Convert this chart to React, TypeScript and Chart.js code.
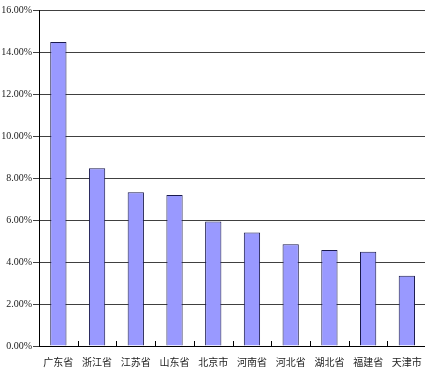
import React, { useEffect, useRef } from "react";
import { Chart, registerables } from "chart.js";

Chart.register(...registerables);

const categories = ["广东省", "浙江省", "江苏省", "山东省", "北京市", "河南省", "河北省", "湖北省", "福建省", "天津市"];
const shares = [14.48, 8.47, 7.32, 7.19, 5.93, 5.41, 4.84, 4.57, 4.49, 3.35];
const yMax = 16;
const yStep = 2;

const innerTicks = {
  id: "innerTicks",
  afterDatasetsDraw(chart: any) {
    const x = chart.scales.x;
    const y = chart.scales.y;
    const ctx = chart.ctx;
    const base = y.getPixelForValue(0);
    ctx.save();
    ctx.strokeStyle = "#000000";
    ctx.lineWidth = 1;
    for (let i = 0; i < categories.length - 1; i++) {
      const px = Math.round((x.getPixelForValue(i) + x.getPixelForValue(i + 1)) / 2) + 0.5;
      ctx.beginPath();
      ctx.moveTo(px, base);
      ctx.lineTo(px, base - 5);
      ctx.stroke();
    }
    ctx.restore();
  },
};

export default function App() {
  const ref = useRef<HTMLCanvasElement>(null);
  useEffect(() => {
    if (!ref.current) return;
    const chart = new Chart(ref.current, {
      type: "bar",
      data: {
        labels: categories,
        datasets: [
          {
            data: shares,
            backgroundColor: "#9999FF",
            borderColor: "#1a1a4d",
            borderWidth: 1,
            barPercentage: 0.42,
            categoryPercentage: 1,
          },
        ],
      },
      options: {
        responsive: false,
        animation: false,
        layout: { padding: { top: 10, left: 0, right: 3, bottom: 0 } },
        plugins: { legend: { display: false }, tooltip: { enabled: false } },
        scales: {
          x: {
            offset: true,
            grid: { display: false, drawTicks: false },
            border: { display: true, color: "#000000", width: 1 },
            ticks: {
              padding: 10,
              color: "#222222",
              maxRotation: 0,
              font: { family: "'Noto Sans CJK SC'", size: 10 },
            },
            afterFit: (s: any) => {
              s.height = 29;
            },
          },
          y: {
            min: 0,
            max: yMax,
            grid: { color: "#404040", lineWidth: 1, tickLength: 6, tickColor: "#404040" },
            border: { display: true, color: "#000000", width: 1 },
            ticks: {
              stepSize: yStep,
              padding: 1,
              color: "#222222",
              font: { family: "'Liberation Serif'", size: 10 },
              callback: (v: any) => Number(v).toFixed(2) + "%",
            },
            afterFit: (s: any) => {
              s.width = 39;
            },
          },
        },
      },
      plugins: [innerTicks],
    });
    return () => chart.destroy();
  }, []);
  return (
    <div style={{ position: "absolute", left: 0, top: 0, width: 425, height: 375, overflow: "hidden", background: "#ffffff" }}>
      <canvas ref={ref} width={432} height={375} style={{ display: "block" }} />
    </div>
  );
}
